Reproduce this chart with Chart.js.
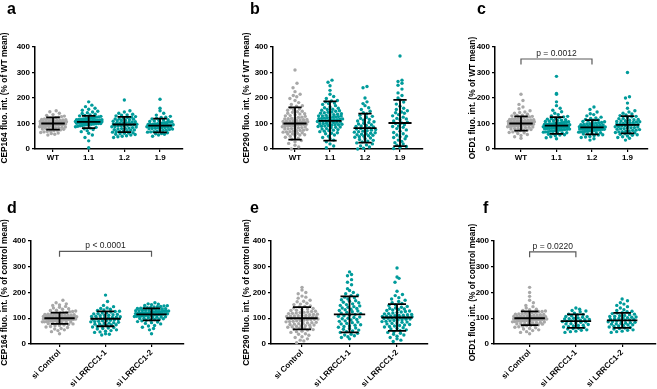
<!DOCTYPE html>
<html>
<head>
<meta charset="utf-8">
<script src="https://cdn.jsdelivr.net/npm/chart.js@4.4.0/dist/chart.umd.min.js"></script>
<style>
  html, body { margin: 0; padding: 0; background: #fff; }
  #fig { position: relative; width: 657px; height: 389px; overflow: hidden; }
  #fig canvas { position: absolute; }
</style>
</head>
<body>
<div id="fig"></div>
<script>
// ---- data ----
const catsTop = ['WT', '1.1', '1.2', '1.9'];
const catsBottom = ['si Control', 'si LRRCC1-1', 'si LRRCC1-2'];
const yTicks = [0, 100, 200, 300, 400];

// a: CEP164 (% of WT mean)
const aWT = [55, 58, 61, 63, 65, 67, 69, 70, 72, 74, 75, 77, 78, 80, 81, 82, 84, 85, 86, 87, 88, 89, 90, 91, 92, 93, 94, 95, 96, 97, 98, 99, 100, 100, 101, 102, 103, 104, 105, 106, 107, 108, 109, 110, 111, 112, 113, 115, 116, 118, 119, 121, 123, 125, 127, 129, 132, 135, 140, 146, 150,
  83, 88, 91, 94, 96, 98, 99, 101, 102, 104, 106, 108, 111, 114, 120];
const a11 = [5, 32, 45, 55, 62, 68, 72, 76, 79, 82, 85, 87, 89, 91, 92, 94, 95, 96, 97, 98, 99, 100, 100, 101, 102, 102, 103, 104, 104, 105, 105, 106, 106, 107, 107, 108, 108, 109, 109, 110, 110, 111, 111, 112, 112, 113, 114, 115, 115, 116, 117, 118, 119, 120, 121, 122, 123, 125, 126, 128, 130, 132, 134, 136, 139, 142, 145, 148, 152, 156, 160, 166, 172, 185];
const a12 = [45, 48, 52, 55, 58, 60, 62, 64, 66, 68, 70, 72, 74, 76, 78, 80, 82, 84, 86, 88, 90, 91, 93, 95, 96, 98, 100, 101, 103, 105, 107, 109, 111, 113, 115, 117, 119, 121, 124, 127, 130, 133, 136, 140, 145, 150, 192,
  50, 57, 63, 69, 75, 81, 87, 92, 97, 102, 106, 112, 118, 125, 134];
const a19 = [50, 55, 58, 61, 64, 66, 68, 70, 72, 74, 76, 78, 80, 81, 83, 84, 86, 87, 88, 89, 90, 91, 92, 93, 94, 95, 96, 97, 98, 100, 102, 104, 106, 108, 110, 112, 115, 118, 121, 124, 128, 133, 140, 150, 160, 195,
  60, 67, 73, 79, 82, 85, 88, 91, 93, 96, 99, 103, 107, 114, 125];
const aMean = [100, 106, 96, 92];
const aSD = [24, 24, 30, 27];

// b: CEP290 (% of WT mean)
const bWT = [0, 8, 15, 22, 28, 33, 38, 42, 46, 50, 53, 56, 59, 62, 64, 66, 68, 70, 72, 74, 76, 78, 80, 82, 84, 86, 88, 90, 92, 94, 95, 97, 99, 100, 102, 104, 106, 108, 110, 112, 114, 116, 118, 120, 122, 125, 128, 131, 134, 137, 140, 144, 148, 152, 157, 162, 168, 175, 182, 190, 198, 205, 210, 215, 225, 240, 258, 310,
  55, 60, 67, 73, 79, 83, 87, 91, 93, 96, 98, 101, 103, 105, 107, 109, 111, 115, 119, 124, 130, 138, 146, 155, 170];
const b11 = [5, 12, 20, 28, 35, 40, 45, 50, 55, 60, 64, 68, 70, 72, 76, 80, 83, 85, 86, 89, 92, 95, 95, 98, 100, 103, 105, 106, 109, 110, 112, 115, 115, 118, 120, 121, 124, 125, 127, 130, 130, 133, 135, 136, 140, 142, 144, 148, 150, 152, 156, 160, 165, 170, 175, 180, 185, 190, 198, 206, 215, 230, 248, 262, 270,
  62, 74, 78, 88, 90, 93, 97, 101, 104, 108, 111, 114, 117, 119, 123, 126, 129, 132, 138, 145, 155, 162, 178, 188];
const b12 = [0, 3, 8, 12, 16, 20, 24, 28, 31, 34, 37, 40, 43, 46, 48, 50, 52, 54, 56, 58, 60, 62, 64, 66, 68, 70, 72, 74, 76, 78, 80, 82, 84, 86, 88, 90, 92, 95, 98, 101, 104, 107, 110, 113, 116, 120, 124, 128, 132, 137, 142, 148, 155, 162, 170, 178, 185, 200, 240, 245];
const b19 = [2, 6, 10, 15, 20, 25, 30, 35, 40, 45, 48, 50, 55, 60, 65, 70, 75, 80, 85, 88, 90, 95, 100, 102, 105, 110, 115, 118, 120, 125, 130, 135, 140, 142, 145, 150, 155, 160, 168, 176, 184, 192, 200, 210, 220, 235, 250, 258, 265, 270, 365];
const bMean = [100, 110, 82, 102];
const bSD = [63, 77, 57, 91];

// c: OFD1 (% of WT mean)
const cWT = [42, 48, 53, 57, 61, 64, 67, 70, 72, 74, 76, 78, 80, 82, 84, 85, 87, 88, 89, 90, 91, 92, 93, 94, 95, 96, 97, 98, 99, 100, 101, 102, 103, 104, 105, 106, 107, 108, 109, 110, 111, 112, 113, 115, 116, 118, 120, 122, 124, 126, 128, 130, 133, 136, 140, 145, 150, 158, 165, 175, 190, 215,
  65, 75, 81, 86, 90, 93, 95, 97, 99, 100, 102, 104, 106, 108, 110, 114, 119, 125, 132, 143];
const c11 = [40, 44, 48, 52, 55, 58, 60, 62, 64, 66, 68, 70, 72, 73, 75, 76, 78, 79, 80, 81, 82, 83, 84, 85, 86, 87, 88, 89, 90, 91, 92, 93, 94, 95, 96, 97, 98, 99, 100, 101, 103, 105, 107, 109, 111, 113, 115, 117, 120, 123, 126, 130, 135, 140, 146, 152, 160, 170, 185, 215, 218, 285,
  56, 63, 67, 71, 74, 77, 80, 83, 86, 88, 90, 92, 94, 97, 100, 104, 108, 112, 119, 128];
const c12 = [35, 40, 45, 49, 53, 56, 59, 62, 64, 66, 68, 70, 72, 73, 74, 76, 77, 78, 79, 80, 81, 82, 83, 84, 85, 86, 87, 88, 89, 90, 92, 94, 96, 98, 100, 102, 104, 107, 110, 113, 116, 120, 125, 130, 138, 145, 155, 165,
  47, 55, 60, 63, 67, 69, 71, 73, 75, 77, 79, 80, 82, 84, 86, 88, 91, 93, 95, 99, 103, 108, 114, 122, 135];
const c19 = [35, 42, 48, 54, 58, 62, 65, 68, 71, 74, 77, 80, 82, 84, 86, 88, 90, 92, 94, 96, 98, 100, 102, 104, 106, 108, 110, 113, 116, 120, 124, 128, 134, 140, 150, 160, 180, 200, 300,
  45, 51, 56, 60, 64, 67, 70, 73, 76, 79, 83, 87, 91, 95, 99, 103, 107, 111, 115, 119, 126, 131, 137, 145, 205];
const cMean = [100, 92, 85, 95];
const cSD = [28, 33, 28, 34];
const cP = { from: 1, to: 3, label: 'p = 0.0012' };

// d: CEP164 (% of control mean)
const dCtl = [40, 48, 55, 60, 64, 68, 71, 74, 76, 78, 80, 82, 84, 85, 86, 87, 88, 89, 90, 91, 92, 93, 94, 95, 96, 97, 98, 99, 100, 100, 101, 102, 103, 104, 105, 106, 107, 108, 109, 110, 111, 112, 113, 114, 115, 117, 119, 121, 123, 125, 128, 131, 135, 140, 146, 152, 160, 170,
  52, 58, 66, 72, 79, 83, 86, 89, 91, 93, 95, 97, 98, 99, 101, 102, 104, 106, 108, 110, 112, 116, 118, 122, 126, 130, 137, 143, 150, 156];
const d1 = [35, 40, 45, 50, 55, 60, 64, 68, 72, 75, 78, 81, 84, 86, 88, 90, 92, 94, 96, 98, 100, 102, 104, 106, 108, 110, 112, 115, 118, 121, 124, 127, 130, 135, 140, 150, 165, 190,
  38, 47, 52, 58, 62, 66, 70, 74, 77, 80, 83, 87, 91, 95, 99, 103, 107, 111, 114, 117, 120, 126, 132, 138, 145];
const d2 = [40, 55, 65, 72, 78, 83, 87, 90, 93, 96, 98, 100, 102, 104, 106, 108, 109, 110, 111, 112, 113, 114, 115, 116, 117, 118, 119, 120, 121, 122, 123, 124, 125, 126, 127, 128, 129, 130, 132, 134, 136, 138, 140, 142, 144, 146, 148, 150, 153, 156, 160,
  60, 70, 80, 85, 92, 95, 99, 103, 105, 107, 109, 111, 113, 115, 117, 119, 121, 123, 125, 127, 129, 131, 133, 135, 137, 139, 141, 145, 149, 155];
const dMean = [100, 98, 115];
const dSD = [22, 29, 23];
const dP = { from: 1, to: 3, label: 'p < 0.0001' };

// e: CEP290 (% of control mean)
const eCtl = [5, 12, 20, 28, 34, 40, 45, 50, 54, 58, 62, 65, 68, 71, 74, 77, 80, 82, 84, 86, 88, 90, 92, 94, 96, 98, 100, 102, 104, 106, 108, 110, 112, 114, 116, 118, 120, 122, 124, 127, 130, 133, 136, 140, 144, 148, 153, 158, 164, 170, 178, 186, 195, 210, 220,
  15, 25, 38, 48, 56, 60, 64, 67, 70, 73, 76, 79, 83, 87, 91, 95, 97, 99, 101, 103, 105, 107, 109, 111, 115, 119, 123, 126, 131, 138, 146, 155, 166, 182, 200];
const e1 = [20, 28, 35, 42, 48, 54, 60, 65, 70, 75, 80, 85, 90, 95, 100, 105, 110, 115, 120, 125, 130, 135, 140, 145, 150, 156, 162, 168, 175, 182, 190, 200, 215, 240, 265, 280,
  25, 32, 38, 45, 51, 57, 62, 68, 73, 78, 83, 88, 93, 98, 103, 108, 113, 118, 123, 128, 133, 138, 143, 148, 153, 160, 166, 172, 180, 188, 195, 208, 230, 250, 270];
const e2 = [10, 20, 30, 38, 45, 52, 58, 63, 68, 72, 76, 80, 84, 87, 90, 93, 96, 99, 102, 105, 108, 111, 114, 117, 120, 124, 128, 132, 136, 140, 146, 152, 160, 170, 180, 192, 205, 240, 255, 295,
  15, 25, 35, 42, 48, 55, 60, 66, 70, 74, 78, 82, 85, 88, 91, 94, 97, 100, 101, 103, 104, 106, 107, 109, 110, 112, 115, 118, 122, 126, 130, 134, 138, 143, 150, 157, 165, 175, 188, 260];
const eMean = [100, 115, 103];
const eSD = [43, 70, 52];

// f: OFD1 (% of control mean)
const fCtl = [40, 48, 55, 60, 65, 69, 72, 75, 78, 80, 82, 84, 86, 88, 89, 90, 91, 92, 93, 94, 95, 96, 97, 98, 99, 100, 101, 102, 103, 104, 105, 106, 107, 108, 109, 110, 112, 114, 116, 118, 120, 123, 126, 130, 135, 140, 150, 160, 185, 200, 220,
  45, 52, 58, 63, 67, 71, 74, 77, 79, 81, 83, 85, 87, 89, 91, 93, 95, 97, 99, 100, 102, 104, 106, 108, 110, 113, 115, 117, 119, 122, 125, 128, 133, 145, 170];
const f1 = [45, 50, 55, 58, 61, 64, 67, 70, 73, 76, 79, 82, 85, 88, 90, 92, 95, 98, 101, 104, 107, 110, 113, 116, 120, 125, 130, 135, 140,
  48, 53, 60, 66, 72, 78, 84, 87, 91, 94, 97, 100, 106, 115, 128];
const f2 = [45, 50, 55, 60, 64, 68, 72, 75, 78, 81, 84, 87, 90, 93, 96, 99, 102, 105, 108, 111, 114, 118, 122, 127, 133, 140, 150, 160, 168, 175,
  48, 53, 58, 62, 66, 70, 74, 77, 80, 83, 86, 89, 92, 95, 98, 101, 104, 107, 110, 116, 120, 125, 130, 145, 155];
const fMean = [100, 89, 92];
const fSD = [27, 26, 29];
const fP = { from: 1, to: 2, label: 'p = 0.0220' };

// ---- layout (page pixels) ----
const GRAY = '#a8a8a8';
const TEAL = '#009b9b';
const FONT = '"Liberation Sans", Arial, sans-serif';
Chart.defaults.font.family = FONT;

const panels = [
  { letter: 'a', lx: 7, ly: 14, left: 0, top: 0, w: 215, h: 180, axisX: 35, axisEnd: 183, plotTop: 47, plotBottom: 149,
    xmin: 0.495, xmax: 4.644, titleX: 5, cats: catsTop, groups: [aWT, a11, a12, a19], means: aMean, sds: aSD,
    title: 'CEP164 fluo. int. (% of WT mean)', rot: 0 },
  { letter: 'b', lx: 250, ly: 14, left: 215, top: 0, w: 220, h: 180, axisX: 273, axisEnd: 423, plotTop: 47, plotBottom: 149,
    xmin: 0.371, xmax: 4.657, titleX: 247, cats: catsTop, groups: [bWT, b11, b12, b19], means: bMean, sds: bSD,
    title: 'CEP290 fluo. int. (% of WT mean)', rot: 0 },
  { letter: 'c', lx: 477, ly: 14, left: 435, top: 0, w: 222, h: 180, axisX: 495, axisEnd: 648, plotTop: 47, plotBottom: 149,
    xmin: 0.268, xmax: 4.578, titleX: 473, cats: catsTop, groups: [cWT, c11, c12, c19], means: cMean, sds: cSD,
    title: 'OFD1 fluo. int. (% of WT mean)', rot: 0, p: cP, pY: 353 },
  { letter: 'd', lx: 7, ly: 213, left: 0, top: 190, w: 215, h: 199, axisX: 31, axisEnd: 184, plotTop: 241, plotBottom: 344,
    xmin: 0.38, xmax: 3.706, titleX: 5, cats: catsBottom, groups: [dCtl, d1, d2], means: dMean, sds: dSD,
    title: 'CEP164 fluo. int. (% of control mean)', rot: 45, p: dP, pY: 360 },
  { letter: 'e', lx: 250, ly: 213, left: 215, top: 190, w: 220, h: 199, axisX: 271, axisEnd: 428, plotTop: 241, plotBottom: 344,
    xmin: 0.347, xmax: 3.652, titleX: 247, cats: catsBottom, groups: [eCtl, e1, e2], means: eMean, sds: eSD,
    title: 'CEP290 fluo. int. (% of control mean)', rot: 45 },
  { letter: 'f', lx: 483, ly: 213, left: 435, top: 190, w: 222, h: 199, axisX: 494, axisEnd: 657, plotTop: 241, plotBottom: 344,
    xmin: 0.23, xmax: 3.717, titleX: 473, cats: catsBottom, groups: [fCtl, f1, f2], means: fMean, sds: fSD,
    title: 'OFD1 fluo. int. (% of control mean)', rot: 45, p: fP, pY: 358 }
];

// scatter-dot layout: bin values into rows and spread each row sideways,
// crowded rows get squeezed so the cloud stays rounded
function swarm(vals, cat, yPx, xPx) {
  const rowH = 5.5, step = 4.3, maxW = 0.76 * xPx;
  const sorted = vals.slice().sort((p, q) => p - q);
  const rows = [];
  sorted.forEach(v => {
    const r = Math.floor(v * yPx / rowH);
    (rows[r] = rows[r] || []).push(v);
  });
  const pts = [];
  rows.forEach(row => {
    const k = row.length;
    const width = maxW * (1 - Math.exp(-(k - 1) * step / maxW));
    const s = k > 1 ? width / (k - 1) : 0;
    const order = [];
    for (let i = 0; i < k; i += 2) order.push(i);
    for (let i = 1; i < k; i += 2) order.push(i);
    row.forEach((v, j) => {
      pts.push({ x: cat + (order[j] - (k - 1) / 2) * s / xPx, y: v });
    });
  });
  return pts;
}

function overlay(p) {
  return {
    id: 'overlay',
    afterDatasetsDraw(chart) {
      const { ctx, scales: { x, y } } = chart;
      ctx.save();
      ctx.strokeStyle = '#000';
      ctx.lineWidth = 1.8;
      p.means.forEach((m, i) => {
        const c = i + 1;
        const xc = x.getPixelForValue(c);
        const hw = x.getPixelForValue(c + 0.33) - xc;
        const cw = x.getPixelForValue(c + 0.19) - xc;
        const ym = y.getPixelForValue(m);
        const yt = y.getPixelForValue(m + p.sds[i]);
        const yb = y.getPixelForValue(m - p.sds[i]);
        ctx.beginPath();
        ctx.moveTo(xc - hw, ym); ctx.lineTo(xc + hw, ym);
        ctx.moveTo(xc, yt); ctx.lineTo(xc, yb);
        ctx.moveTo(xc - cw, yt); ctx.lineTo(xc + cw, yt);
        ctx.moveTo(xc - cw, yb); ctx.lineTo(xc + cw, yb);
        ctx.stroke();
      });
      if (p.p) {
        const yl = y.getPixelForValue(p.pY);
        const x1 = x.getPixelForValue(p.p.from);
        const x2 = x.getPixelForValue(p.p.to);
        ctx.strokeStyle = '#5a5a5a';
        ctx.lineWidth = 1.2;
        ctx.beginPath();
        ctx.moveTo(x1, yl + 5.5); ctx.lineTo(x1, yl); ctx.lineTo(x2, yl); ctx.lineTo(x2, yl + 5.5);
        ctx.stroke();
        ctx.fillStyle = '#222';
        ctx.font = '8.5px ' + FONT;
        ctx.textAlign = 'center';
        ctx.textBaseline = 'alphabetic';
        ctx.fillText(p.p.label, (x1 + x2) / 2, yl - 3);
      }
      ctx.restore();
    },
    afterDraw(chart) {
      const ctx = chart.ctx;
      ctx.save();
      ctx.fillStyle = '#000';
      ctx.font = 'bold 16px ' + FONT;
      ctx.textAlign = 'left';
      ctx.textBaseline = 'alphabetic';
      ctx.fillText(p.letter, p.lx - p.left, p.ly - p.top);
      ctx.restore();
    }
  };
}

const fig = document.getElementById('fig');
const titleLH = 8.4 * 1.2;

panels.forEach(p => {
  const cv = document.createElement('canvas');
  cv.width = p.w; cv.height = p.h;
  cv.style.left = p.left + 'px'; cv.style.top = p.top + 'px';
  cv.style.width = p.w + 'px'; cv.style.height = p.h + 'px';
  fig.appendChild(cv);

  const padL = Math.max(0, p.titleX - p.left - titleLH / 2);
  const yW = p.axisX - p.left - padL;
  const xH = p.top + p.h - p.plotBottom;
  const yPx = (p.plotBottom - p.plotTop) / 400;
  const xPx = (p.axisEnd - p.axisX) / (p.xmax - p.xmin);

  const datasets = p.groups.map((g, i) => ({
    data: swarm(g, i + 1, yPx, xPx),
    backgroundColor: i === 0 ? GRAY : TEAL,
    borderWidth: 0,
    pointRadius: 1.7,
    pointHoverRadius: 1.7,
    clip: false
  }));

  new Chart(cv, {
    type: 'scatter',
    data: { datasets },
    options: {
      responsive: false,
      animation: false,
      devicePixelRatio: 1,
      events: [],
      layout: { padding: { left: padL, top: p.plotTop - p.top, right: p.left + p.w - p.axisEnd, bottom: 0 } },
      plugins: { legend: { display: false }, tooltip: { enabled: false } },
      scales: {
        x: {
          type: 'linear',
          min: p.xmin,
          max: p.xmax,
          afterFit: s => { s.height = xH; },
          afterBuildTicks: s => { s.ticks = p.cats.map((c, i) => ({ value: i + 1 })); },
          ticks: {
            callback: v => p.cats[v - 1],
            autoSkip: false,
            minRotation: p.rot,
            maxRotation: p.rot,
            padding: 1,
            color: '#000',
            font: { size: 8, weight: 'bold' }
          },
          grid: { drawOnChartArea: false, tickLength: 3, color: '#000', lineWidth: 1.2 },
          border: { color: '#000', width: 1.5 }
        },
        y: {
          min: 0,
          max: 400,
          afterFit: s => { s.width = yW; },
          afterBuildTicks: s => { s.ticks = yTicks.map(v => ({ value: v })); },
          ticks: { padding: 2, color: '#000', font: { size: 8, weight: 'bold' } },
          grid: { drawOnChartArea: false, tickLength: 3, color: '#000', lineWidth: 1.2 },
          border: { color: '#000', width: 1.5 },
          title: {
            display: true,
            text: p.title,
            color: '#000',
            padding: { top: 0, bottom: 0 },
            font: { size: 8.4, weight: 'bold' }
          }
        }
      }
    },
    plugins: [overlay(p)]
  });
});
</script>
</body>
</html>
